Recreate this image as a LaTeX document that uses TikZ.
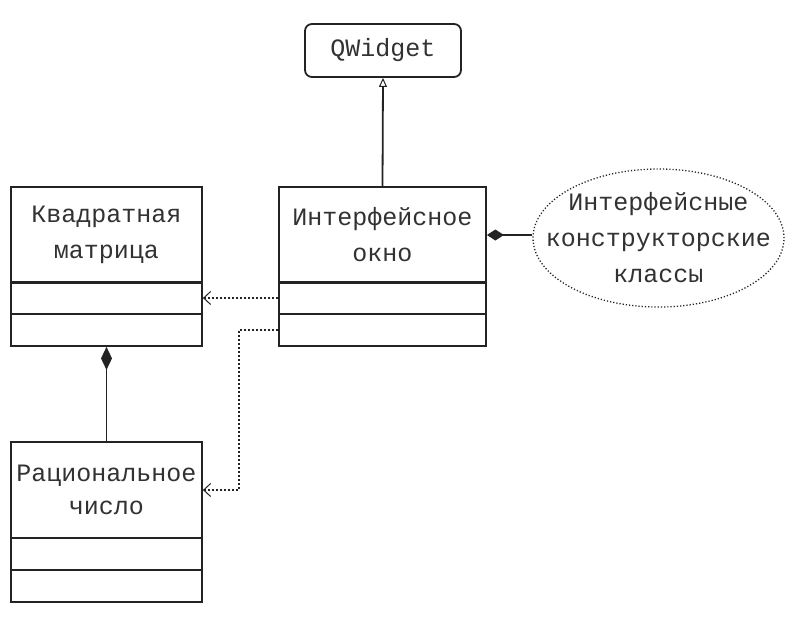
\documentclass[tikz,border=0pt]{standalone}
\usepackage{fontspec}
\setmonofont{Liberation Mono}
\usetikzlibrary{arrows.meta,shapes.geometric}
\definecolor{ln}{RGB}{35,35,35}
\definecolor{txt}{RGB}{50,50,50}
\begin{document}
\begin{tikzpicture}[x=1pt,y=-1pt,
  every node/.style={font=\ttfamily\fontsize{25}{36}\selectfont, text=txt},
  clsbox/.style={draw=ln, line width=1.8pt, minimum width=191pt, minimum height=96pt, inner sep=0pt, align=center},
  compbox/.style={draw=ln, line width=1.8pt, minimum width=191pt, minimum height=32pt, inner sep=0pt},
  inh/.style={draw=ln, line width=1.8pt, -{Triangle[open,length=9pt,width=8pt,line width=1pt]}},
  compo/.style={draw=ln, line width=1.8pt, -{Diamond[length=#1,width=11pt]}},
  compo/.default=20pt,
  dep/.style={draw=ln, line width=1.8pt, dash pattern=on 1.8pt off 2.2pt, -{Straight Barb[length=7pt,width=13pt,line width=1pt]}}
]
\fill[white] (0,0) rectangle (785,640);
\useasboundingbox (0,0) rectangle (785,640);

% QWidget
\node[draw=ln, line width=1.8pt, rounded corners=7pt, minimum width=156pt, minimum height=53pt, inner sep=0pt] (Q) at (383,50.5) {QWidget};

% Квадратная матрица
\node[clsbox] (A) at (106.5,235) {Квадратная\\матрица};
\node[compbox] (A1) at (106.5,298) {};
\node[compbox] (A2) at (106.5,330) {};

% Интерфейсное окно
\node[clsbox, minimum width=207pt] (B) at (382.5,235) {Интерфейсное\\окно};
\node[compbox, minimum width=207pt] (B1) at (382.5,298) {};
\node[compbox, minimum width=207pt] (B2) at (382.5,330) {};

% Рациональное число
\node[clsbox, font=\ttfamily\fontsize{25}{33}\selectfont] (C) at (106.5,490) {Рациональное\\число};
\node[compbox] (C1) at (106.5,554) {};
\node[compbox] (C2) at (106.5,586) {};

% Ellipse
\node[ellipse, draw=ln, line width=1.3pt, dash pattern=on 1.2pt off 2pt, minimum width=251pt, minimum height=138pt, inner sep=0pt] (E) at (658.5,238) {};
\node[align=center, inner sep=0pt] (Et) at (E.center) {Интерфейсные\\конструкторские\\классы};

% connectors
\draw[inh] (B.north) -- (Q.south);
\draw[compo=17pt] (B.east -| E.west) -- (B.east);
\draw[compo=23pt] (C.north) -- (A2.south);
\draw[dep] (B1.west) -- (A1.east);
\draw[dep] (B2.west) -- ++(-39,0) |- (C.east);
\end{tikzpicture}
\end{document}
